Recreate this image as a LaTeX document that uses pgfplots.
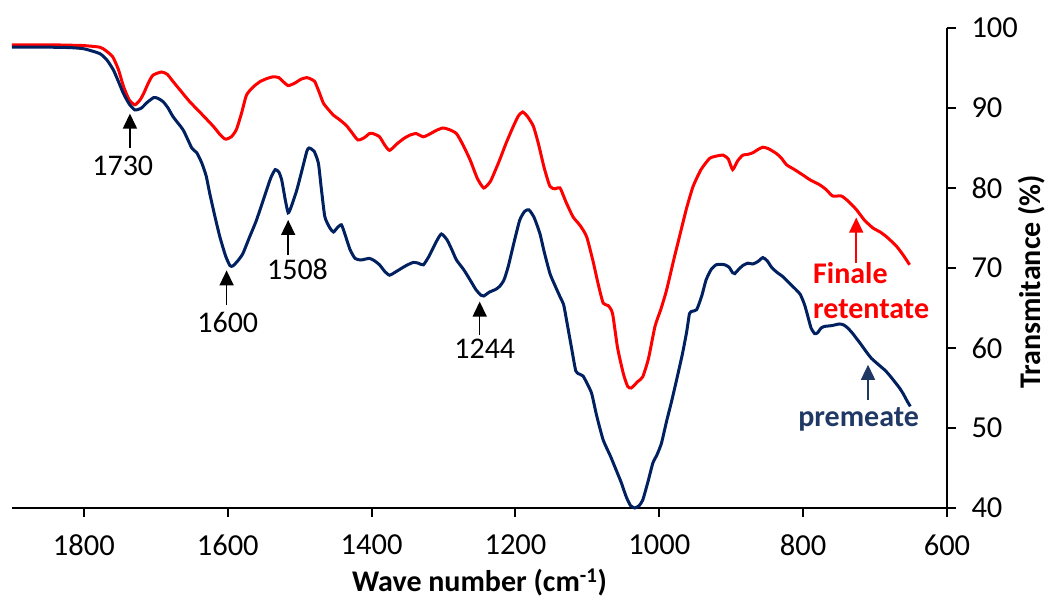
\documentclass[border=0pt]{standalone}
\usepackage{fontspec}
\setmainfont{Carlito}
\usepackage{pgfplots}
\pgfplotsset{compat=1.18}
\usetikzlibrary{arrows.meta}
\definecolor{retcol}{HTML}{FF0000}
\definecolor{percol}{HTML}{002060}
\definecolor{pertext}{HTML}{1F3864}

\begin{document}
\begin{tikzpicture}[font=\fontsize{30}{36}\selectfont]
\begin{axis}[
  scale only axis, width=935pt, height=480pt,
  x dir=reverse, xmin=600, xmax=1900, ymin=40, ymax=100,
  axis x line=bottom, axis y line=right,
  axis line style={-, line width=2pt},
  xtick={600,800,...,1800}, ytick={40,50,...,100},
  tick align=outside, major tick length=9pt,
  tick style={line width=2pt, black},
  /pgf/number format/1000 sep={},
  /pgf/number format/assume math mode=true,
  ticklabel style={font=\fontsize{30.5}{36}\selectfont},
  xticklabel style={yshift=-14pt},
  yticklabel style={xshift=12pt},
  xlabel={\textbf{Wave number (cm\textsuperscript{-1})}},
  xlabel style={at={(axis description cs:0.5,0)}, anchor=center, yshift=-74pt},
  clip=false,
  every axis plot/.append style={smooth, tension=0.35},
]
% Finale retentate
\addplot[retcol, line width=3pt] coordinates {
(1900,97.9) (1850,97.9) (1820,97.85) (1800,97.8) (1778,97.6) (1770,97.2) (1760,96.4)
(1752,94.8) (1745,92.7) (1737,91.0) (1729,90.4) (1722,91.0) (1717,91.8) (1710,93.2)
(1704,94.1) (1692,94.5) (1684,94.2) (1676,93.3) (1665,92.1) (1653,90.8) (1639,89.5)
(1620,87.7) (1610,86.6) (1603,86.1) (1595,86.4) (1588,87.3) (1581,89.3) (1574,91.6)
(1565,92.6) (1555,93.3) (1545,93.7) (1537,93.9) (1529,93.8) (1523,93.3) (1516,92.8)
(1507,93.1) (1498,93.6) (1490,93.8) (1484,93.6) (1479,93.3) (1473,92.0) (1467,90.6)
(1460,89.8) (1453,89.1) (1444,88.5) (1435,87.8) (1428,87.0) (1419,86.0) (1410,86.3)
(1403,86.8) (1398,86.8) (1389,86.4) (1382,85.4) (1375,84.7) (1365,85.5) (1355,86.2)
(1347,86.6) (1338,86.8) (1328,86.4) (1318,86.8) (1310,87.2) (1301,87.5) (1292,87.3)
(1282,86.8) (1273,85.4) (1263,83.5) (1253,81.2) (1244,80.0) (1235,80.8) (1228,82.2)
(1222,83.5) (1213,85.6) (1203,87.7) (1196,89.0) (1190,89.5) (1183,88.9) (1175,87.7)
(1168,85.5) (1160,82.5) (1152,80.2) (1145,79.9) (1138,80.0) (1130,78.3) (1120,76.4)
(1110,75.3) (1101,73.9) (1092,70.8) (1085,68.0) (1078,65.6) (1071,65.3) (1065,64.3)
(1058,60.0) (1050,56.8) (1044,55.2) (1039,55.0) (1030,55.8) (1023,56.4) (1015,58.7)
(1006,62.7) (998,64.8) (990,67.2) (980,71.0) (972,73.9) (962,77.5) (953,80.2)
(942,82.3) (930,83.7) (920,84.0) (911,84.1) (904,83.6) (898,82.3) (891,83.4)
(884,84.1) (877,84.2) (870,84.4) (863,84.8) (856,85.1) (848,84.9) (837,84.3)
(830,83.7) (823,82.9) (812,82.3) (800,81.6) (790,81.0) (777,80.4) (768,79.8)
(759,79.0) (747,79.0) (738,78.4) (726,77.3) (715,76.0) (703,75.0) (693,74.5)
(684,73.9) (670,72.7) (660,71.5) (652,70.4)
};
% premeate
\addplot[percol, line width=3pt] coordinates {
(1900,97.6) (1850,97.6) (1820,97.55) (1800,97.4) (1778,96.8) (1768,96.0) (1759,94.75)
(1752,93.3) (1745,91.8) (1737,90.5) (1729,89.75) (1720,90.0) (1712,90.7) (1703,91.3)
(1697,91.2) (1690,90.8) (1683,90.0) (1676,88.9) (1662,87.25) (1650,85.0) (1643,84.4)
(1636,83.1) (1630,81.5) (1625,79.3) (1618,76.5) (1611,73.9) (1603,71.5) (1597,70.3)
(1593,70.25) (1586,70.9) (1579,71.8) (1570,73.8) (1560,76.0) (1546,79.75) (1540,81.3)
(1534,82.3) (1529,82.0) (1525,81.0) (1520,78.5) (1516,76.9) (1512,77.6) (1504,79.75)
(1496,82.5) (1490,84.6) (1487,85.0) (1480,84.6) (1474,83.1) (1470,80.0) (1465,76.4)
(1458,75.0) (1453,74.5) (1448,75.0) (1442,75.4) (1437,74.2) (1430,72.3) (1423,71.2)
(1415,71.0) (1403,71.2) (1396,70.9) (1389,70.4) (1382,69.6) (1375,69.1) (1365,69.6)
(1352,70.3) (1342,70.7) (1335,70.6) (1328,70.4) (1320,71.5) (1310,73.3) (1303,74.25)
(1295,73.5) (1288,72.2) (1282,71.0) (1272,69.8) (1263,68.5) (1255,67.3) (1248,66.6)
(1244,66.5) (1236,67.0) (1228,67.3) (1222,67.7) (1216,68.5) (1210,70.2) (1202,73.2)
(1194,76.0) (1187,77.1) (1181,77.25) (1174,76.3) (1166,74.3) (1160,72.0) (1152,69.3)
(1145,67.8) (1138,66.4) (1133,65.4) (1129,63.5) (1122,60.0) (1116,57.1) (1110,56.7)
(1106,56.5) (1100,55.5) (1094,54.3) (1087,51.5) (1078,48.5) (1068,46.5) (1060,44.75)
(1053,43.2) (1046,41.4) (1040,40.3) (1034,40.0) (1028,40.3) (1023,41.0) (1016,43.2)
(1009,45.6) (1003,46.7) (997,48.1) (990,50.8) (983,53.3) (976,56.0) (968,59.2)
(962,62.0) (958,64.3) (954,64.6) (948,64.8) (941,66.5) (935,68.5) (928,69.8)
(921,70.4) (915,70.45) (909,70.4) (903,70.1) (898,69.4) (895,69.3) (890,69.8)
(884,70.3) (877,70.6) (870,70.5) (863,70.8) (856,71.3) (850,70.9) (844,70.1)
(837,69.5) (828,68.9) (819,68.1) (810,67.3) (804,66.7) (798,65.4) (793,63.8)
(789,62.5) (784,61.8) (780,61.9) (775,62.5) (770,62.7) (760,62.8) (750,63.0)
(744,62.9) (738,62.5) (731,61.8) (720,60.5) (712,59.5) (705,58.7) (695,57.9)
(686,57.2) (680,56.6) (672,55.7) (666,55.0) (661,54.3) (655,53.3) (651,52.7)
};
% y axis title on the right
\node[rotate=90, anchor=center, font=\bfseries\fontsize{30}{36}\selectfont]
  at ([xshift=85pt, yshift=-14pt]axis description cs:1,0.5) {Transmitance (\%)};
% peak annotations
\draw[-{Triangle[width=14pt,length=15pt]}, line width=1.5pt] (axis cs:1736,85.0) -- (axis cs:1736,89.3);
\node[anchor=base, inner sep=0pt] at (axis cs:1746,81.6) {1730};
\draw[-{Triangle[width=14pt,length=15pt]}, line width=1.5pt] (axis cs:1601.6,65.4) -- (axis cs:1601.6,69.7);
\node[anchor=base, inner sep=0pt] at (axis cs:1600,61.9) {1600};
\draw[-{Triangle[width=14pt,length=15pt]}, line width=1.5pt] (axis cs:1516,71.6) -- (axis cs:1516,76.0);
\node[anchor=base, inner sep=0pt] at (axis cs:1503,68.55) {1508};
\draw[-{Triangle[width=14pt,length=15pt]}, line width=1.5pt] (axis cs:1249.7,61.6) -- (axis cs:1249.7,65.8);
\node[anchor=base, inner sep=0pt] at (axis cs:1242.7,58.7) {1244};
% series labels
\draw[retcol, -{Triangle[width=14pt,length=15pt]}, line width=1.5pt] (axis cs:726.2,70.6) -- (axis cs:726.2,76.3);
\node[anchor=base west, inner sep=0pt, text=retcol, font=\bfseries\fontsize{30}{36}\selectfont] at (axis cs:786.4,68.1) {Finale};
\node[anchor=base west, inner sep=0pt, text=retcol, font=\bfseries\fontsize{30}{36}\selectfont] at (axis cs:786.4,63.7) {retentate};
\draw[pertext, -{Triangle[width=14pt,length=15pt]}, line width=1.5pt] (axis cs:709.8,53.5) -- (axis cs:709.8,57.9);
\node[anchor=base west, inner sep=0pt, text=pertext, font=\bfseries\fontsize{30}{36}\selectfont] at (axis cs:807,50.2) {premeate};
\end{axis}
\path ([shift={(-12pt,-91pt)}]current axis.south west) rectangle ([shift={(102pt,28pt)}]current axis.north east);
\end{tikzpicture}
\end{document}
